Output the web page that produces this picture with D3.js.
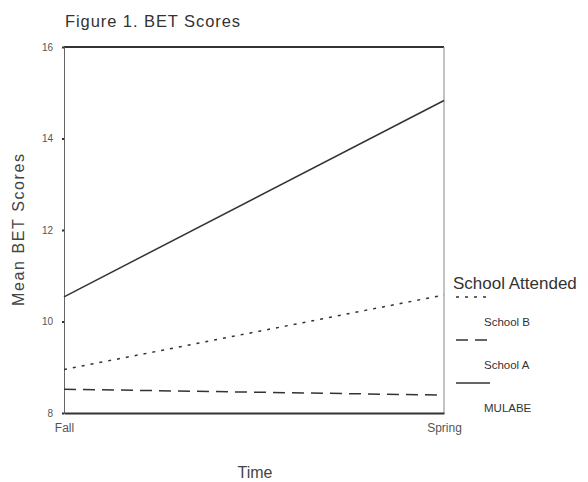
<!DOCTYPE html>
<meta charset="utf-8">
<style>
body { margin: 0; background: #fff; }
svg { font-family: "Liberation Sans", Arial, sans-serif; }
.tick text { fill: #555; font-size: 10px; }
.title { font-size: 16.5px; fill: #333; }
.axis-title { fill: #444; }
.legend text { font-size: 11.5px; fill: #333; }
</style>
<svg width="588" height="482"></svg>
<script src="https://cdn.jsdelivr.net/npm/d3@7"></script>
<script>

var times = ["Fall", "Spring"],
    schools = ["School B", "School A", "MULABE"],
    schoolB = [8.95, 10.58],
    schoolA = [8.52, 8.39],
    mulabe = [10.54, 14.83],
    yTicks = [8, 10, 12, 14, 16];

var series = [
  {name: "School B", values: schoolB, dash: "3,6"},
  {name: "School A", values: schoolA, dash: "12,7"},
  {name: "MULABE", values: mulabe, dash: null}
];

var svg = d3.select("svg");

var x = d3.scalePoint().domain(times).range([64, 444]),
    y = d3.scaleLinear().domain([8, 16]).range([413, 47]);

svg.append("text")
    .attr("class", "title")
    .attr("x", 65)
    .attr("y", 27)
    .attr("textLength", 175)
    .text("Figure 1. BET Scores");

// frame
svg.append("line").attr("x1", 64).attr("x2", 444).attr("y1", 47).attr("y2", 47)
    .attr("stroke", "#333").attr("stroke-width", 1.8);
svg.append("line").attr("x1", 444).attr("x2", 444).attr("y1", 47).attr("y2", 413)
    .attr("stroke", "#888").attr("stroke-width", 1);

var yAxis = svg.append("g")
    .attr("transform", "translate(64,0)")
    .call(d3.axisLeft(y).tickValues(yTicks).tickSize(2).tickPadding(9));
yAxis.select(".domain").attr("stroke", "#666");
yAxis.selectAll(".tick line").attr("stroke", "#333").attr("stroke-width", 2);

var xAxis = svg.append("g")
    .attr("transform", "translate(0,413)")
    .call(d3.axisBottom(x).tickSize(0).tickPadding(10));
xAxis.select(".domain").attr("stroke", "#333").attr("stroke-width", 1.8);
xAxis.selectAll(".tick text").style("font-size", "12px");

svg.append("text")
    .attr("class", "axis-title")
    .attr("transform", "translate(24,230) rotate(-90)")
    .attr("text-anchor", "middle")
    .attr("font-size", 16)
    .attr("textLength", 152)
    .text("Mean BET Scores");

svg.append("text")
    .attr("class", "axis-title")
    .attr("x", 255)
    .attr("y", 478)
    .attr("text-anchor", "middle")
    .attr("font-size", 16)
    .text("Time");

var line = d3.line()
    .x(function(d, i) { return x(times[i]); })
    .y(function(d) { return y(d); });

svg.selectAll(".series")
    .data(series)
  .enter().append("path")
    .attr("class", "series")
    .attr("d", function(d) { return line(d.values); })
    .attr("fill", "none")
    .attr("stroke", "#333")
    .attr("stroke-width", 1.5)
    .attr("stroke-dasharray", function(d) { return d.dash; });

// legend
svg.append("text")
    .attr("x", 453)
    .attr("y", 289)
    .attr("font-size", 17)
    .attr("fill", "#333")
    .text("School Attended");

var legend = svg.selectAll(".legend")
    .data(series)
  .enter().append("g")
    .attr("class", "legend")
    .attr("transform", function(d, i) { return "translate(456," + (297 + i * 43) + ")"; });

legend.append("line")
    .attr("x1", 0)
    .attr("x2", 34)
    .attr("stroke", "#333")
    .attr("stroke-width", 1.5)
    .attr("stroke-dasharray", function(d) { return d.dash; });

legend.append("text")
    .attr("x", 28)
    .attr("y", 29)
    .text(function(d) { return d.name; });

</script>
